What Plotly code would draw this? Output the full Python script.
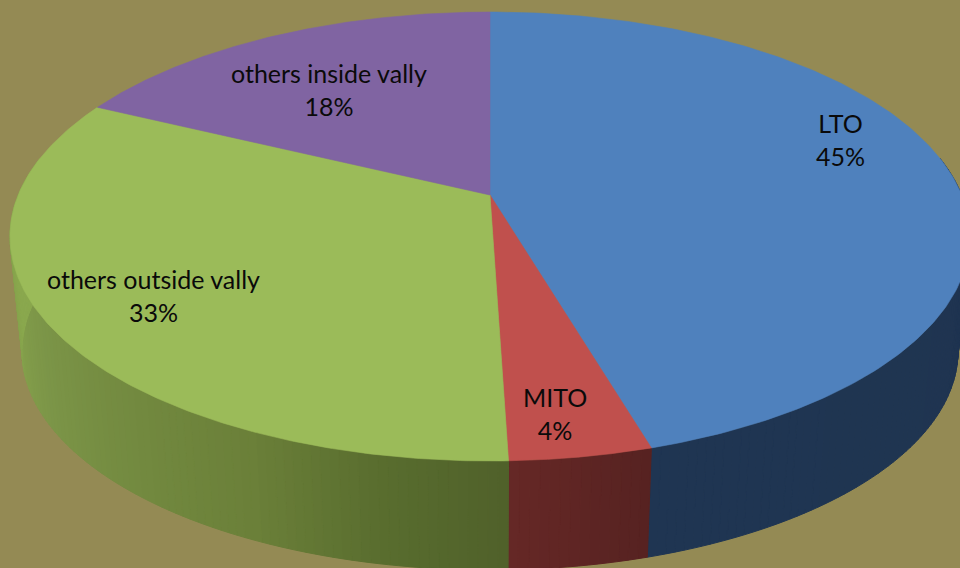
import numpy as np
import plotly.graph_objects as go

# Data
categories = ["LTO", "MITO", "others outside vally", "others inside vally"]
values = [45.46, 4.03, 32.71, 17.8]
tick_percent = ["45%", "4%", "33%", "18%"]

# Styles
top_colors = ["#4F81BD", "#C0504D", "#9BBB59", "#8064A2"]
side_stops = [
    [(0.0, (31, 52, 80)), (1.0, (31, 53, 82))],
    [(0.0, (86, 34, 33)), (1.0, (102, 40, 38))],
    [(0.0, (80, 97, 42)), (0.118, (88, 108, 46)), (0.265, (107, 128, 57)),
     (0.61, (124, 150, 72)), (0.85, (138, 168, 78)), (1.0, (138, 168, 78))],
    [(0.0, (70, 55, 90)), (1.0, (70, 55, 90))],
]
BG = "#948A54"
label_xy = [(840, 139), (555, 413), (153, 295), (329, 89)]

# Perspective projection of the disc
CX, CY, A, B, P = 490.0, 195.0, 471.7, 216.8, 0.1849
SCALE, DROP = 0.975, 115.6


def top(theta):
    X, Y = np.sin(theta), np.cos(theta)
    d = 1 + P * Y
    return CX + A * X / d, CY - B * Y / d


def bottom(theta):
    x, y = top(theta)
    return CX + SCALE * (x - CX), CY + DROP + SCALE * (y - CY)


def shade(stops, t):
    xs = [s[0] for s in stops]
    rgb = [np.interp(t, xs, [s[1][i] for s in stops]) for i in range(3)]
    return "rgb(%d,%d,%d)" % tuple(int(round(v)) for v in rgb)


total = sum(values)
edges = np.concatenate([[0.0], np.cumsum(values)]) / total * 2 * np.pi

fig = go.Figure()

# Side wall, one thin strip at a time
for i in range(len(values)):
    lo, hi = edges[i], edges[i + 1]
    lo_vis, hi_vis = max(lo, np.radians(80)), min(hi, np.radians(280))
    if hi_vis <= lo_vis:
        continue
    n = max(2, int(np.degrees(hi_vis - lo_vis) / 1.0))
    steps = np.linspace(lo_vis, hi_vis, n + 1)
    for k in range(n):
        a, b = steps[k], steps[k + 1]
        th = np.linspace(a, b, 3)
        xt, yt = top(th)
        xb, yb = bottom(th)
        xs = np.concatenate([xt, xb[::-1], xt[:1]])
        ys = np.concatenate([yt, yb[::-1], yt[:1]])
        col = shade(side_stops[i], (0.5 * (a + b) - lo_vis) / (hi_vis - lo_vis))
        fig.add_trace(go.Scatter(x=xs, y=ys, mode="lines", fill="toself",
                                 fillcolor=col, line=dict(color=col, width=1),
                                 hoverinfo="skip", showlegend=False))

# Top face
for i in range(len(values)):
    th = np.linspace(edges[i], edges[i + 1], 200)
    xt, yt = top(th)
    xs = np.concatenate([[CX], xt, [CX]])
    ys = np.concatenate([[CY], yt, [CY]])
    fig.add_trace(go.Scatter(x=xs, y=ys, mode="lines", fill="toself",
                             fillcolor=top_colors[i],
                             line=dict(color=top_colors[i], width=0.6),
                             hoverinfo="skip", showlegend=False, name=categories[i]))

# Labels
for name, pct, (lx, ly) in zip(categories, tick_percent, label_xy):
    fig.add_annotation(x=lx, y=ly, text=f"{name}<br>{pct}", showarrow=False,
                       font=dict(family="Lato", size=25, color="#0a0a0a"), align="center")

fig.update_layout(
    width=960, height=568, margin=dict(l=0, r=0, t=0, b=0),
    paper_bgcolor=BG, plot_bgcolor=BG,
    xaxis=dict(range=[0, 960], visible=False, fixedrange=True),
    yaxis=dict(range=[568, 0], visible=False, fixedrange=True),
)
fig.write_html("out.html", config={"displayModeBar": False},
               post_script="document.body.style.margin='0';document.body.style.background='%s';" % BG)
